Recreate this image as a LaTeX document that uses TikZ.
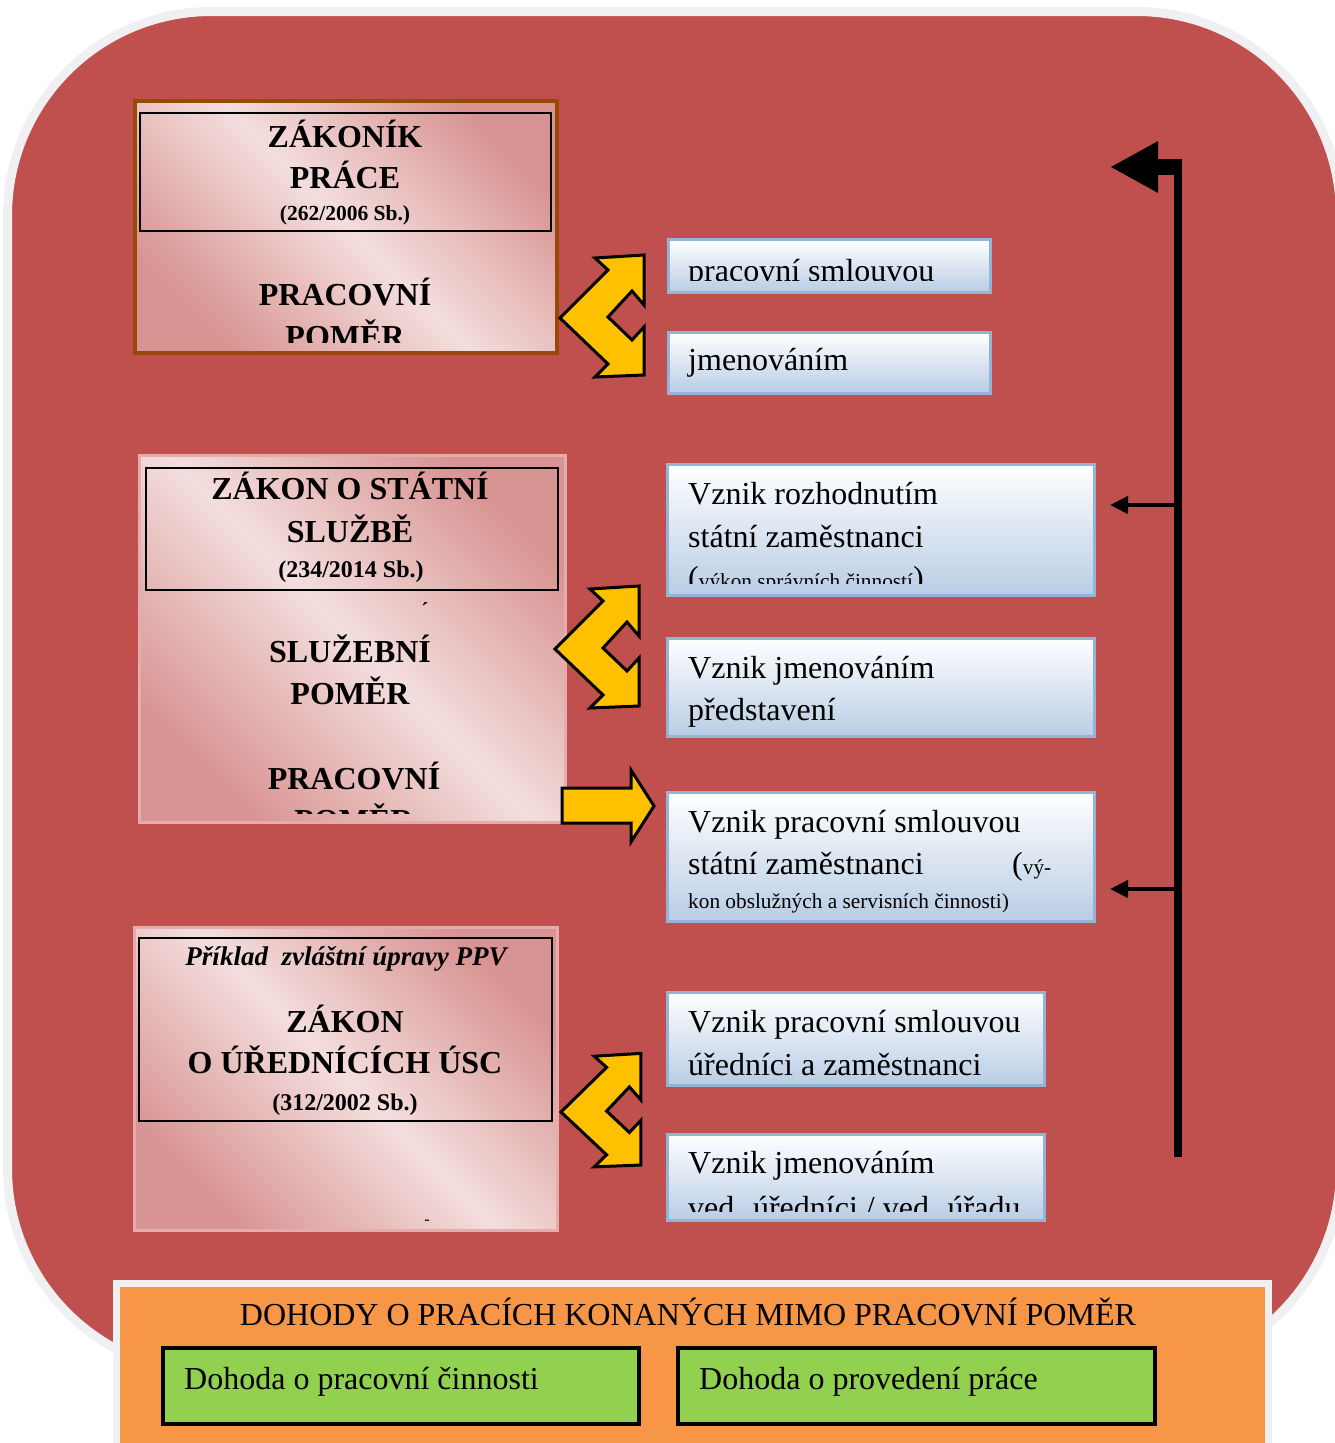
\documentclass[tikz,border=0pt]{standalone}
\usepackage{fontspec}
\setmainfont{Liberation Serif}
\usetikzlibrary{arrows.meta}
\definecolor{bgred}{RGB}{192,80,77}
\definecolor{bggray}{RGB}{240,240,242}
\definecolor{pinkL}{RGB}{243,222,221}
\definecolor{pinkD}{RGB}{216,148,146}
\definecolor{brownB}{RGB}{152,72,7}
\definecolor{pinkB}{RGB}{228,172,170}
\definecolor{blueB}{RGB}{149,179,215}
\definecolor{blueD}{RGB}{185,205,229}
\definecolor{yel}{RGB}{255,192,0}
\definecolor{orng}{RGB}{247,150,70}
\definecolor{grn}{RGB}{146,208,80}
\newcommand\BPar[1]{{\fontsize{32}{37}\selectfont #1}}
\begin{document}
\begin{tikzpicture}[x=1pt,y=-1pt,
 pinkbox/.style={rectangle, inner sep=0pt, outer sep=0pt, top color=pinkD, bottom color=pinkD, middle color=pinkL, shading angle=-45, anchor=north west},
 lawbox/.style={rectangle, draw=black, line width=2pt, inner sep=0pt, outer sep=0pt, anchor=north west},
 bluebox/.style={rectangle, draw=blueB, line width=3pt, top color=white, bottom color=blueD, inner sep=0pt, outer sep=0pt, anchor=north west},
 greenbox/.style={rectangle, draw=black, line width=4pt, fill=grn, inner sep=0pt, outer sep=0pt, anchor=north west},
 hb/.style={inner sep=0pt, anchor=base, font=\fontsize{32}{37}\selectfont\bfseries},
 hs/.style={inner sep=0pt, anchor=base, font=\fontsize{21.5}{25}\selectfont\bfseries},
 rt/.style={inner sep=0pt, anchor=base west, font=\fontsize{32}{37}\selectfont},
 sm/.style={inner sep=0pt, anchor=base west, font=\fontsize{21.3}{25}\selectfont},
 yarrow/.style={fill=yel, draw=black, line width=3pt, line join=miter},
 conn/.style={draw=black, line width=4pt, -{Triangle[length=18pt,width=17pt]}},
 dblarrow/.pic={\path[yarrow] (35,-60) -- (84,-63) -- (84,-13) -- (72,-27) -- (48,-1) -- (72,22) -- (84,9) -- (84,57) -- (35,59) -- (48,46) -- (0,0) -- (48,-48) -- cycle;}
]
\useasboundingbox (0,0) rectangle (1334,1443);
% background
\path[fill=bgred, draw=bggray, line width=9pt, rounded corners=204pt] (7.5,11.5) rectangle (1340.5,1372.5);

% ---- box A
\node[pinkbox, draw=brownB, line width=4pt, minimum width=422pt, minimum height=252pt] (boxA) at (135,101) {};
\node[lawbox, minimum width=411pt, minimum height=118pt] (lawA) at (140,113) {};
\begin{scope}
\clip (137,103) rectangle (555,342);
\node[hb] (a1) at (345,147) {ZÁKONÍK};
\node[hb] (a2) at (345,188) {PRÁCE};
\node[hs] (a3) at (345,220) {(262/2006 Sb.)};
\node[hb] (a4) at (345,305) {PRACOVNÍ};
\node[hb] (a5) at (345,347) {POMĚR};
\end{scope}

% ---- box B
\node[pinkbox, draw=pinkB, line width=3pt, minimum width=426pt, minimum height=367pt] (boxB) at (139,455) {};
\node[lawbox, minimum width=412pt, minimum height=122pt] (lawB) at (146,468) {};
\begin{scope}
\clip (141,457) rectangle (563,813);
\node[hb] (b1) at (350,499) {ZÁKON O STÁTNÍ};
\node[hb] (b2) at (350,542) {SLUŽBĚ};
\node[inner sep=0pt, anchor=base, font=\fontsize{24}{28}\selectfont\bfseries] (b3) at (351,577) {(234/2014 Sb.)};
\node[hs] (b4) at (425,617) {´};
\node[hb] (b5) at (350,662) {SLUŽEBNÍ};
\node[hb] (b6) at (350,704) {POMĚR};
\node[hb] (b7) at (354,789) {PRACOVNÍ};
\node[hb] (b8) at (354,831) {POMĚR};
\end{scope}

% ---- box C
\node[pinkbox, draw=pinkB, line width=3pt, minimum width=423pt, minimum height=303pt] (boxC) at (134,927) {};
\node[lawbox, minimum width=413pt, minimum height=183pt] (lawC) at (139,938) {};
\node[inner sep=0pt, anchor=base, font=\fontsize{27}{31}\selectfont\bfseries\itshape] (c1) at (346,965) {Příklad\ \ zvláštní úpravy PPV};
\node[hb] (c2) at (345,1032) {ZÁKON};
\node[hb] (c3) at (345,1073) {O ÚŘEDNÍCÍCH ÚSC};
\node[inner sep=0pt, anchor=base, font=\fontsize{24}{28}\selectfont\bfseries] (c4) at (345,1110) {(312/2002 Sb.)};
\node[inner sep=0pt, anchor=base, font=\fontsize{16}{18}\selectfont] (c5) at (427,1224) {-};

% ---- right boxes
\node[bluebox, minimum width=322pt, minimum height=53pt] (r1) at (668,239) {};
\node[bluebox, minimum width=322pt, minimum height=61pt] (r2) at (668,332) {};
\node[bluebox, minimum width=427pt, minimum height=131pt] (r3) at (667,464) {};
\node[bluebox, minimum width=427pt, minimum height=98pt] (r4) at (667,638) {};
\node[bluebox, minimum width=427pt, minimum height=129pt] (r5) at (667,792) {};
\node[bluebox, minimum width=377pt, minimum height=93pt] (r6) at (667,992) {};
\node[bluebox, minimum width=377pt, minimum height=86pt] (r7) at (667,1134) {};

\begin{scope}
\clip (669,241) rectangle (989,280);
\node[rt] (t1) at (688,281) {pracovní smlouvou};
\end{scope}
\node[rt] (t2) at (688,370) {jmenováním};
\node[rt] (t3a) at (688,504) {Vznik rozhodnutím};
\node[rt] (t3b) at (688,547) {státní zaměstnanci};
\begin{scope}
\clip (669,466) rectangle (1092,583);
\node[sm] (t3c) at (688,588) {\BPar{(}výkon správních činností\BPar{)}};
\end{scope}
\node[rt] (t4a) at (688,678) {Vznik jmenováním};
\node[rt] (t4b) at (688,720) {představení};
\node[rt] (t5a) at (688,832) {Vznik pracovní smlouvou};
\node[rt] (t5b) at (688,874) {státní zaměstnanci};
\node[sm] (t5c) at (1012,874) {\BPar{(}vý-};
\node[sm] (t5d) at (688,908) {kon obslužných a servisních činnosti)};
\node[rt] (t6a) at (688,1032) {Vznik pracovní smlouvou};
\node[rt] (t6b) at (688,1075) {úředníci a zaměstnanci};
\node[rt] (t7a) at (688,1173) {Vznik jmenováním};
\begin{scope}
\clip (669,1136) rectangle (1042,1211);
\node[rt] (t7b) at (688,1218) {ved. úředníci / ved. úřadu};
\end{scope}

% ---- yellow arrows
\pic at (560,318) {dblarrow};
\pic at (555,649) {dblarrow};
\pic[xscale=0.95, yscale=0.93] at (561,1112) {dblarrow};
\path[yarrow] (562,788) -- (631,788) -- (631,770) -- (654,806) -- (631,842) -- (631,823) -- (562,823) -- cycle;

% ---- black connector
\coordinate (vbot) at (1178,1157);
\coordinate (vtop) at (1178,159);
\coordinate (vstub) at (1182,167);
\coordinate (vtip) at (1110,167);
\draw[line width=8pt] (vbot) -- (vtop);
\draw[line width=16pt, -{Triangle[length=48pt,width=48pt]}] (vstub) -- (vtip);
\coordinate (j3) at (1178,505);
\coordinate (k3) at (1110,505);
\coordinate (j5) at (1178,889);
\coordinate (k5) at (1110,889);
\draw[conn] (j3) -- (k3);
\draw[conn] (j5) -- (k5);

% ---- bottom orange box
\node[rectangle, draw=bggray, fill=orng, line width=7pt, inner sep=0pt, anchor=north west, minimum width=1152pt, minimum height=200pt] (dohody) at (112.5,1279.5) {};
\node[inner sep=0pt, anchor=base, font=\fontsize{32}{37}\selectfont] (dtitle) at (688,1325) {DOHODY O PRACÍCH KONANÝCH MIMO PRACOVNÍ POMĚR};
\node[greenbox, minimum width=476pt, minimum height=76pt] (g1) at (163,1348) {};
\node[greenbox, minimum width=477pt, minimum height=76pt] (g2) at (678,1348) {};
\node[rt] (g1t) at (184,1389) {Dohoda o pracovní činnosti};
\node[rt] (g2t) at (699,1389) {Dohoda o provedení práce};
\end{tikzpicture}
\end{document}
